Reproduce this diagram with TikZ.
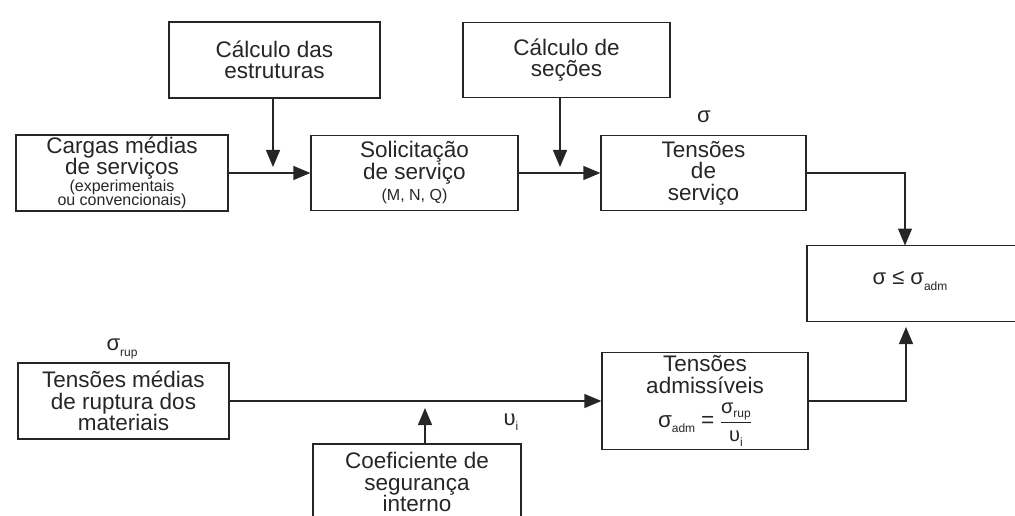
\documentclass[tikz,border=0pt]{standalone}
\usepackage{fontspec}
\setmainfont{Liberation Sans}
\usetikzlibrary{arrows.meta}
% lowered small index, as in sigma_adm
\newcommand{\lowsub}[1]{\raisebox{-0.45ex}{\fontsize{12}{12}\selectfont #1}}
\newcommand{\smalltxt}{\fontsize{16}{16}\selectfont}
\newcommand{\fractxt}{\fontsize{20}{20}\selectfont}

\begin{document}
\begin{tikzpicture}[x=1pt,y=-1pt,
  box/.style={draw=black!85, line width=1.3pt, text=black!85, align=center,
    inner sep=0pt, font=\fontsize{22.5}{21.5}\selectfont},
  link/.style={draw=black!85, line width=1.3pt, -{Triangle[length=17pt,width=14pt]}},
  lbl/.style={text=black!85, inner sep=0pt, font=\fontsize{22}{22}\selectfont}]
\useasboundingbox (0,0) rectangle (1015,516);
\clip (0,0) rectangle (1015,516);

% upper row
\node[box, minimum width=211pt, minimum height=76pt] (est) at (274.5,60) {Cálculo das\\estruturas};
\node[box, minimum width=207pt, minimum height=75pt] (sec) at (566.5,60) {Cálculo de\\seções};
\node[box, minimum width=212pt, minimum height=76pt] (car) at (122,173)
  {Cargas médias\\de serviços\\[-5pt]{\smalltxt(experimentais}\\[-7pt]{\smalltxt ou convencionais)}};
\node[box, minimum width=207pt, minimum height=75pt] (sol) at (414.5,173)
  {Solicitação\\de serviço\\{\smalltxt(M, N, Q)}};
\node[box, minimum width=205pt, minimum height=75pt] (tser) at (703.5,173) {Tensões\\de\\serviço};

% check box on the right, open towards the page edge
\node[box, minimum width=230pt, minimum height=76pt] (cmp) at (922,283.5) {};
\node[lbl] (cmptxt) at (910,281) {σ ≤ σ\lowsub{adm}};

% lower row
\node[box, minimum width=211pt, minimum height=76pt] (tmr) at (123.5,401)
  {Tensões médias\\de ruptura dos\\materiais};
\node[box, minimum width=206pt, minimum height=97pt] (tadm) at (705,401)
  {Tensões\\admissíveis\\[8pt]$\displaystyle\mbox{σ\lowsub{adm}}\mathrel{\mbox{=}}\frac{\mbox{\fractxt σ\lowsub{rup}}}{\mbox{\fractxt υ\lowsub{i}}}$};
\node[box, minimum width=208pt, minimum height=76pt] (coef) at (417,482)
  {Coeficiente de\\segurança\\interno};

% quantity labels
\node[lbl] (sg) at (704,117) {σ};
\node[lbl] (sgr) at (122,349) {σ\lowsub{rup}};
\node[lbl] (ups) at (511,422) {υ\lowsub{i}};

% arrow ends
\coordinate (j1) at (273,167);
\coordinate (j2) at (560,167);
\coordinate (j3) at (425,408);
\coordinate (t1) at (905,245.5);
\coordinate (t2) at (906,327);

% connectors
\draw[link] (car.east) -- (sol.west);
\draw[link] (sol.east) -- (tser.west);
\draw[link] (est.south -| j1) -- (j1);
\draw[link] (sec.south -| j2) -- (j2);
\draw[link] (tser.east) -| (t1);
\draw[link] (tmr.east) -- (tadm.west);
\draw[link] (coef.north -| j3) -- (j3);
\draw[link] (tadm.east) -| (t2);
\end{tikzpicture}
\end{document}
